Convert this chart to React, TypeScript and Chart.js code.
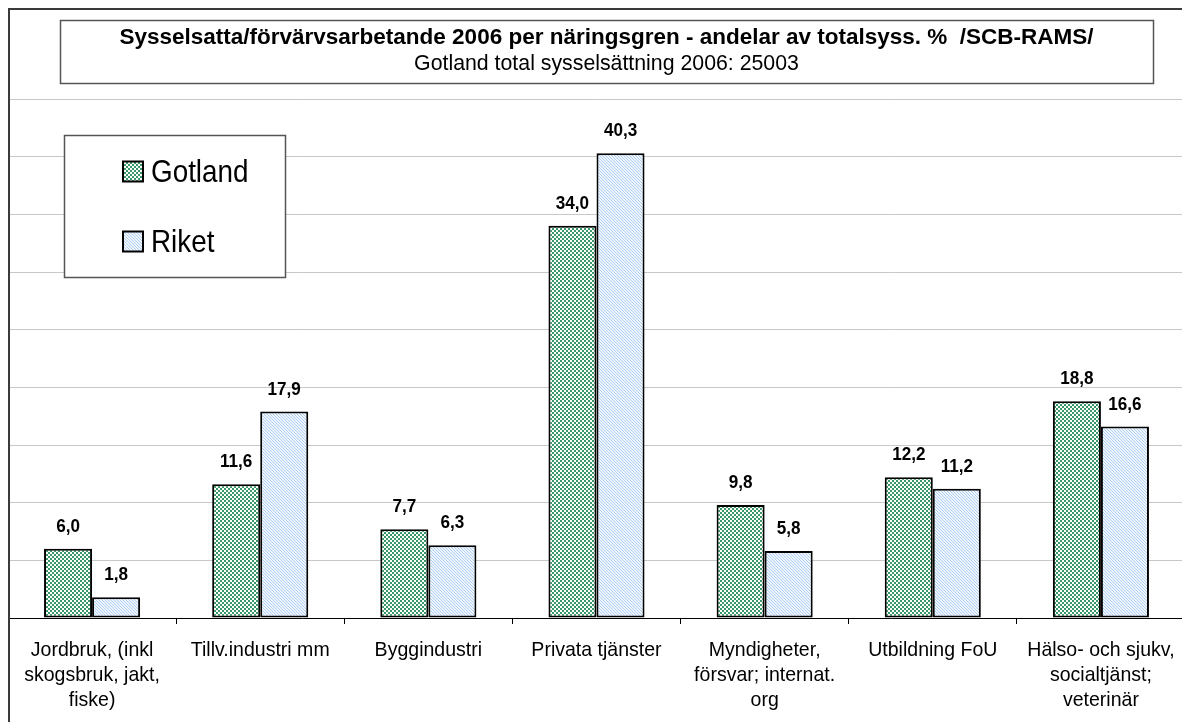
import React, { useEffect, useRef } from "react";
import { Chart, registerables } from "chart.js";

Chart.register(...registerables);

const categories: string[][] = [
  ["Jordbruk, (inkl", "skogsbruk, jakt,", "fiske)"],
  ["Tillv.industri mm"],
  ["Byggindustri"],
  ["Privata tjänster"],
  ["Myndigheter,", "försvar; internat.", "org"],
  ["Utbildning FoU"],
  ["Hälso- och sjukv,", "socialtjänst;", "veterinär"],
];
const gotland = [6.0, 11.6, 7.7, 34.0, 9.8, 12.2, 18.8];
const riket = [1.8, 17.9, 6.3, 40.3, 5.8, 11.2, 16.6];
const seriesNames = ["Gotland", "Riket"];
const titleText = "Sysselsatta/förvärvsarbetande 2006 per näringsgren - andelar av totalsyss. %  /SCB-RAMS/";
const subtitleText = "Gotland total sysselsättning 2006: 25003";

const SANS = "'Liberation Sans', Arial, sans-serif";

function makeChecker(): CanvasPattern | string {
  const c = document.createElement("canvas");
  c.width = 4;
  c.height = 4;
  const g = c.getContext("2d");
  if (!g) return "#7ec39d";
  g.fillStyle = "#ffffff";
  g.fillRect(0, 0, 4, 4);
  g.fillStyle = "#3a9868";
  g.fillRect(0, 0, 2, 2);
  g.fillRect(2, 2, 2, 2);
  return g.createPattern(c, "repeat") || "#7ec39d";
}

function makeDiag(): CanvasPattern | string {
  const c = document.createElement("canvas");
  c.width = 3;
  c.height = 3;
  const g = c.getContext("2d");
  if (!g) return "#d0e4f8";
  g.fillStyle = "#eff6fe";
  g.fillRect(0, 0, 3, 3);
  g.fillStyle = "#b0cdf3";
  for (let i = 0; i < 3; i++) {
    g.fillRect(i, i, 1, 1);
  }
  return g.createPattern(c, "repeat") || "#d0e4f8";
}

function narrowText(
  ctx: CanvasRenderingContext2D,
  text: string,
  x: number,
  y: number,
  sx: number,
  align: CanvasTextAlign
) {
  ctx.save();
  ctx.translate(x, y);
  ctx.scale(sx, 1);
  ctx.textAlign = align;
  ctx.fillText(text, 0, 0);
  ctx.restore();
}

const decoPlugin = {
  id: "deco",
  afterDatasetsDraw(chart: any) {
    const ctx = chart.ctx as CanvasRenderingContext2D;
    ctx.save();
    ctx.fillStyle = "#000";
    ctx.font = `bold 19px ${SANS}`;
    ctx.textBaseline = "alphabetic";
    chart.data.datasets.forEach((ds: any, di: number) => {
      const meta = chart.getDatasetMeta(di);
      meta.data.forEach((el: any, i: number) => {
        const v = ds.data[i] as number;
        narrowText(ctx, v.toFixed(1).replace(".", ","), el.x, el.y - 17, 0.9, "center");
      });
    });
    ctx.restore();
  },
  afterDraw(chart: any) {
    const ctx = chart.ctx as CanvasRenderingContext2D;
    const W = chart.width;
    const H = chart.height;
    ctx.save();

    // category labels
    const xs = chart.scales.x;
    ctx.fillStyle = "#000";
    ctx.font = `21px ${SANS}`;
    ctx.textBaseline = "alphabetic";
    const axisY = chart.chartArea.bottom;
    (chart.data.labels as string[][]).forEach((lines, i) => {
      const x = xs.getPixelForTick(i);
      lines.forEach((ln, k) => {
        narrowText(ctx, ln, x, axisY + 38 + k * 25, 0.93, "center");
      });
    });

    // outer frame
    ctx.fillStyle = "#3a3a3a";
    ctx.fillRect(0, 0, W - 1, 2);
    ctx.fillRect(0, 0, 2, H);

    // title box
    ctx.fillStyle = "#fff";
    ctx.fillRect(52, 12, 1093, 63);
    ctx.strokeStyle = "#555";
    ctx.lineWidth = 1.5;
    ctx.strokeRect(52.5, 12.5, 1093, 63);
    ctx.fillStyle = "#000";
    ctx.textAlign = "center";
    ctx.textBaseline = "alphabetic";
    ctx.font = `bold 22.5px ${SANS}`;
    ctx.fillText(titleText, 598.5, 36);
    ctx.font = `21.3px ${SANS}`;
    ctx.fillText(subtitleText, 598.5, 62);

    // legend box
    ctx.fillStyle = "#fff";
    ctx.fillRect(56, 127, 221, 142);
    ctx.strokeStyle = "#555";
    ctx.lineWidth = 1.5;
    ctx.strokeRect(56.5, 127.5, 221, 142);
    const fills = chart.data.datasets.map((d: any) => d.backgroundColor);
    const ys = [163.5, 233.5];
    ctx.textBaseline = "alphabetic";
    ctx.font = `32px ${SANS}`;
    seriesNames.forEach((name, i) => {
      const y = ys[i];
      ctx.fillStyle = fills[i];
      ctx.fillRect(115, y - 10, 20, 20);
      ctx.strokeStyle = "#000";
      ctx.lineWidth = 2;
      ctx.strokeRect(115, y - 10, 20, 20);
      ctx.fillStyle = "#000";
      narrowText(ctx, name, 143, y + 10.5, 0.87, "left");
    });
    ctx.restore();
  },
};

export default function App() {
  const ref = useRef<HTMLCanvasElement | null>(null);
  useEffect(() => {
    if (!ref.current) return;
    const green = makeChecker();
    const blue = makeDiag();
    const chart = new Chart(ref.current, {
      type: "bar",
      data: {
        labels: categories,
        datasets: [
          {
            label: seriesNames[0],
            data: gotland,
            backgroundColor: green as any,
            borderColor: "#000",
            borderWidth: 2,
            borderSkipped: false,
            categoryPercentage: 0.5714,
            barPercentage: 1.0,
          },
          {
            label: seriesNames[1],
            data: riket,
            backgroundColor: blue as any,
            borderColor: "#000",
            borderWidth: 2,
            borderSkipped: false,
            categoryPercentage: 0.5714,
            barPercentage: 1.0,
          },
        ],
      },
      options: {
        animation: false,
        responsive: false,
        maintainAspectRatio: false,
        events: [],
        layout: { padding: { top: 91, left: 0, right: 5, bottom: 0 } },
        plugins: {
          legend: { display: false },
          title: { display: false },
          tooltip: { enabled: false },
        },
        scales: {
          x: {
            afterFit: (scale: any) => {
              scale.height = 104;
            },
            grid: {
              drawOnChartArea: false,
              drawTicks: true,
              tickLength: 6,
              color: "#000",
              offset: true,
            },
            border: { display: true, color: "#000", width: 1 },
            ticks: { display: false, autoSkip: false, maxRotation: 0 },
          },
          y: {
            min: 0,
            max: 45,
            ticks: { display: false, stepSize: 5 },
            grid: { color: "#c8c8c8", drawTicks: false, lineWidth: 1 },
            border: { display: false },
          },
        },
      },
      plugins: [decoPlugin],
    });
    return () => chart.destroy();
  }, []);
  return (
    <div style={{ width: 1182, height: 714 }}>
      <canvas ref={ref} width={1182} height={714} style={{ display: "block" }} />
    </div>
  );
}
